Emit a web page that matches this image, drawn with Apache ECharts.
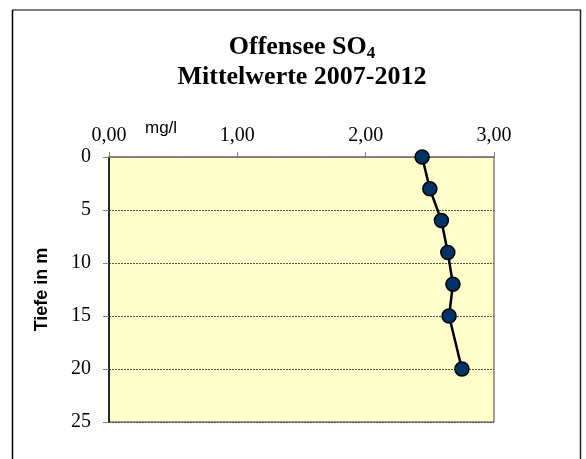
<!DOCTYPE html>
<html>
<head>
<meta charset="utf-8">
<script src="https://cdn.jsdelivr.net/npm/echarts@6/dist/echarts.min.js"></script>
<style>
  html, body { margin: 0; padding: 0; background: #fff; }
  #chart { width: 586px; height: 459px; }
</style>
</head>
<body>
<div id="chart"></div>
<script>
// Offensee SO4 – Mittelwerte 2007-2012 (Tiefenprofil)
const depths = [0, 3, 6, 9, 12, 15, 20];
const so4 = [2.44, 2.50, 2.59, 2.64, 2.68, 2.65, 2.75];
const depthTicks = [0, 5, 10, 15, 20, 25];
const concTicks = [0, 1, 2, 3];

const serif = '"Liberation Serif", "Times New Roman", serif';
const sans = '"Liberation Sans", Arial, sans-serif';

const chart = echarts.init(document.getElementById('chart'));

chart.setOption({
    animation: false,
    backgroundColor: '#fff',
    title: {
        text: 'Offensee SO{sub|4}\nMittelwerte 2007-2012',
        left: 297,
        top: 27,
        textAlign: 'center',
        textStyle: {
            fontFamily: serif,
            fontWeight: 'bold',
            fontSize: 26,
            lineHeight: 30,
            color: '#000',
            rich: {
                sub: {
                    fontFamily: serif,
                    fontWeight: 'bold',
                    fontSize: 17,
                    verticalAlign: 'bottom',
                    padding: [13, 0, 0, 0]
                }
            }
        }
    },
    grid: {
        left: 109,
        right: 92,
        top: 157,
        bottom: 37,
        show: true,
        backgroundColor: '#FFFFCC',
        borderColor: '#404040',
        borderWidth: 1
    },
    xAxis: {
        type: 'value',
        position: 'top',
        min: concTicks[0],
        max: concTicks[concTicks.length - 1],
        interval: 1,
        axisLine: { show: true, lineStyle: { color: '#808080', width: 1.5 } },
        axisTick: { show: true, inside: false, length: 5, lineStyle: { color: '#808080' } },
        axisLabel: {
            fontFamily: serif,
            fontSize: 20,
            color: '#000',
            margin: 11,
            formatter: v => v.toFixed(2).replace('.', ',')
        },
        splitLine: { show: false }
    },
    yAxis: {
        type: 'value',
        inverse: true,
        min: depthTicks[0],
        max: depthTicks[depthTicks.length - 1],
        interval: 5,
        name: 'Tiefe in m',
        nameLocation: 'middle',
        nameRotate: 90,
        nameGap: 58,
        nameTextStyle: { fontFamily: sans, fontWeight: 'bold', fontSize: 18, color: '#000' },
        axisLine: { show: true, lineStyle: { color: '#000', width: 1.5 } },
        axisTick: { show: true, inside: false, length: 6, lineStyle: { color: '#808080' } },
        axisLabel: { fontFamily: serif, fontSize: 20, color: '#000', margin: 18 },
        splitLine: { show: true, lineStyle: { color: '#555', type: [2, 1], width: 1 } }
    },
    series: [{
        type: 'line',
        data: depths.map((d, i) => [so4[i], d]),
        symbol: 'circle',
        symbolSize: 14,
        lineStyle: { color: '#000', width: 2.5 },
        itemStyle: { color: '#003366', borderColor: '#000', borderWidth: 1.5 },
        z: 5
    }],
    graphic: [
        { type: 'line', shape: { x1: 12, y1: 10, x2: 581, y2: 10 }, style: { stroke: '#808080', lineWidth: 2 } },
        { type: 'line', shape: { x1: 12.5, y1: 10, x2: 12.5, y2: 459 }, style: { stroke: '#000', lineWidth: 1.5 } },
        { type: 'line', shape: { x1: 580.5, y1: 10, x2: 580.5, y2: 459 }, style: { stroke: '#222', lineWidth: 1.5 } },
        { type: 'text', left: 145, top: 120, style: { text: 'mg/l', font: '17px ' + sans, fill: '#000' } }
    ]
});

window.addEventListener('resize', () => chart.resize());
</script>
</body>
</html>
